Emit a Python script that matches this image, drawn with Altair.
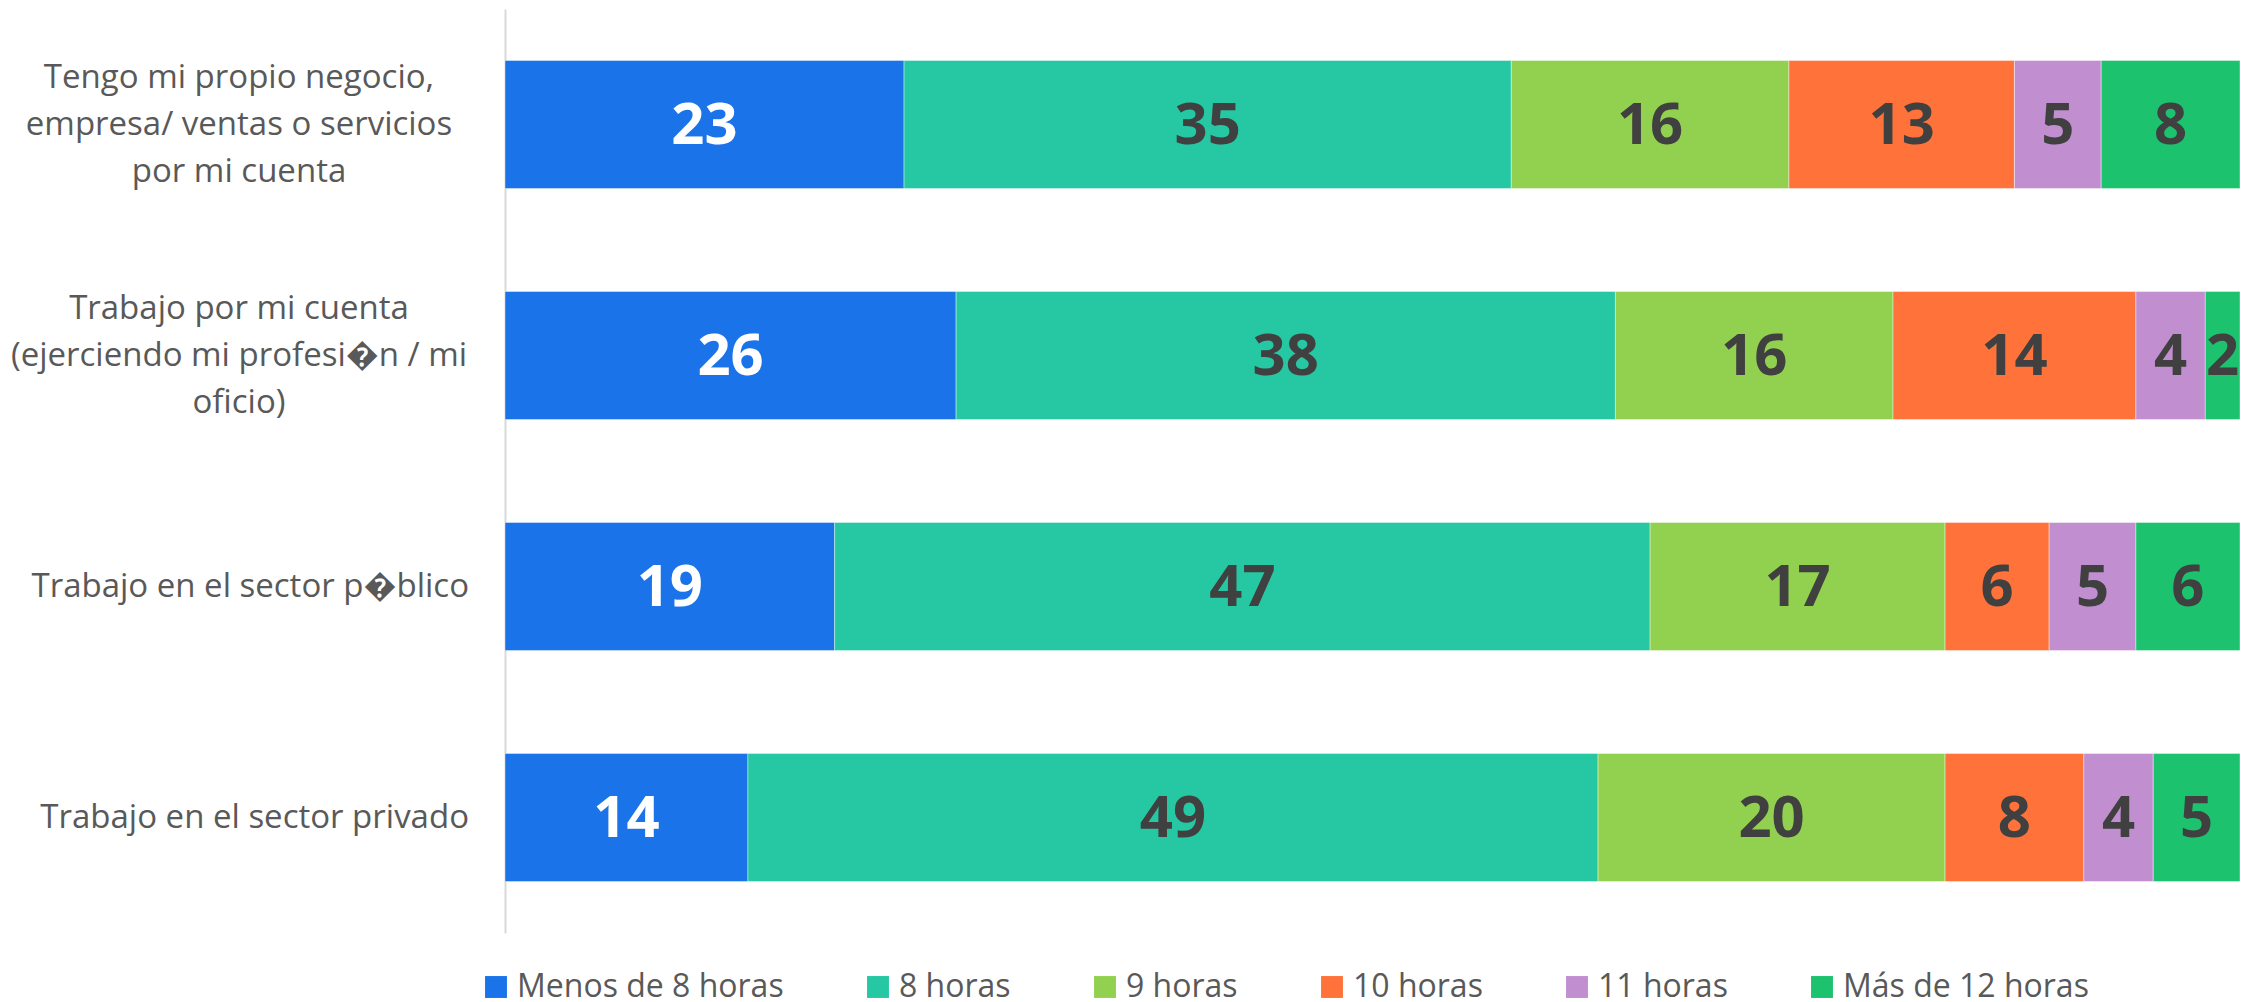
import altair as alt
import pandas as pd

categories = [
    "Tengo mi propio negocio, empresa/ ventas o servicios por mi cuenta",
    "Trabajo por mi cuenta (ejerciendo mi profesi\ufffdn / mi oficio)",
    "Trabajo en el sector p\ufffdblico",
    "Trabajo en el sector privado",
]
label_lines = [
    ["Tengo mi propio negocio,", "empresa/ ventas o servicios", "por mi cuenta"],
    ["Trabajo por mi cuenta", "(ejerciendo mi profesi\ufffdn / mi", "oficio)"],
    ["Trabajo en el sector p\ufffdblico"],
    ["Trabajo en el sector privado"],
]
series = ["Menos de 8 horas", "8 horas", "9 horas", "10 horas", "11 horas", "Más de 12 horas"]
colors = ["#1A73E8", "#26C7A3", "#92D14F", "#FF733B", "#C18ED0", "#1CC26E"]
values = [
    [23, 35, 16, 13, 5, 8],
    [26, 38, 16, 14, 4, 2],
    [19, 47, 17, 6, 5, 6],
    [14, 49, 20, 8, 4, 5],
]

rows = []
for ci, cat in enumerate(categories):
    for si, s in enumerate(series):
        rows.append({"cat": cat, "serie": s, "order": si, "val": values[ci][si]})
df = pd.DataFrame(rows)

lab_rows = [{"cat": c, "lines": l, "multi": len(l) > 1} for c, l in zip(categories, label_lines)]
lab_df = pd.DataFrame(lab_rows)

FONT = "Open Sans"
LBL_SIZE = 33
LINE_H = 47

y_enc = alt.Y(
    "cat:N",
    sort=categories,
    scale=alt.Scale(paddingInner=0.446, paddingOuter=0.223),
    axis=alt.Axis(labels=False, ticks=False, title=None, domainColor="#d9d9d9", domainWidth=2),
)

base = alt.Chart(df).transform_stack(
    stack="val", groupby=["cat"], as_=["x0", "x1"], sort=[alt.SortField("order", order="ascending")]
).transform_calculate(mid="(datum.x0 + datum.x1) / 2")

bars = base.mark_bar(stroke="#ffffff", strokeWidth=0.8, strokeOpacity=0.5).encode(
    y=y_enc,
    x=alt.X("x0:Q", scale=alt.Scale(domain=[0, 100], nice=False, zero=True), axis=None),
    x2="x1:Q",
    color=alt.Color(
        "serie:N",
        sort=series,
        scale=alt.Scale(domain=series, range=colors),
        legend=alt.Legend(
            title=None,
            orient="none",
            direction="horizontal",
            legendX=-25,
            legendY=962,
            symbolType="square",
            symbolSize=480,
            symbolStrokeWidth=0,
            labelFont=FONT,
            labelFontSize=32,
            labelColor="#595959",
            labelLimit=0,
            columnPadding=78,
            labelOffset=5,
            padding=0,
            columns=6,
        ),
    ),
)

nums = base.mark_text(font=FONT, fontSize=58, fontWeight="bold", baseline="middle", align="center", dy=2).encode(
    y=alt.Y("cat:N", sort=categories),
    x=alt.X("mid:Q"),
    text=alt.Text("val:Q"),
    color=alt.condition("datum.order == 0", alt.value("#ffffff"), alt.value("#404040")),
)

multi_labels = alt.Chart(lab_df).transform_filter("datum.multi").mark_text(
    font=FONT, fontSize=LBL_SIZE, color="#595959", align="center", baseline="middle",
    lineHeight=LINE_H, dy=-LINE_H,
).encode(
    y=alt.Y("cat:N", sort=categories),
    x=alt.value(-266),
    text="lines",
)

single_labels = alt.Chart(lab_df).transform_filter("!datum.multi").mark_text(
    font=FONT, fontSize=LBL_SIZE, color="#595959", align="right", baseline="middle"
).encode(
    y=alt.Y("cat:N", sort=categories),
    x=alt.value(-36),
    text="lines",
)

chart = alt.layer(bars, nums, multi_labels, single_labels).properties(
    width=1735,
    height=924,
    padding={"left": 497, "top": 1, "right": 14, "bottom": 80},
    autosize=alt.AutoSizeParams(type="none"),
    background="#ffffff",
).configure_view(stroke=None)

chart.save("out.html", embed_options={"renderer": "svg", "actions": False})
